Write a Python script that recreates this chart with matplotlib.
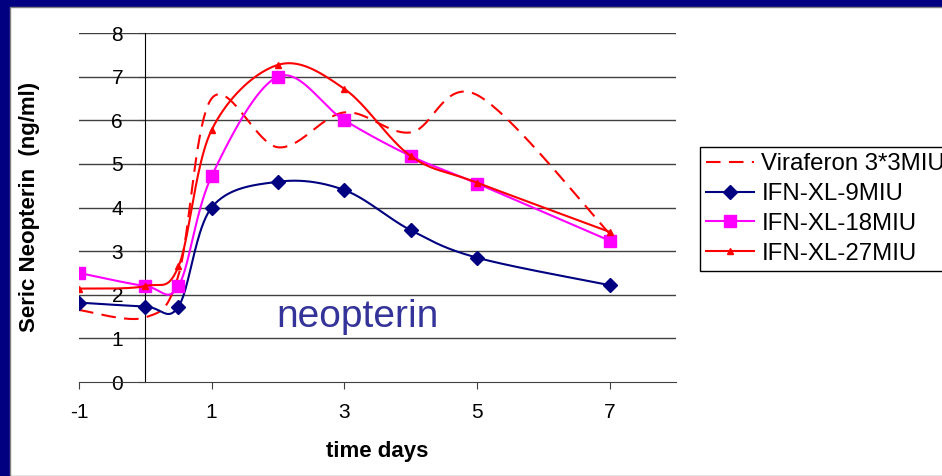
import numpy as np
import matplotlib.pyplot as plt
from matplotlib.patches import Rectangle
from matplotlib.lines import Line2D

plt.rcParams['font.family'] = ['Liberation Sans', 'DejaVu Sans']
plt.rcParams['axes.unicode_minus'] = False

# sampling times (days) and serum neopterin values (ng/ml)
days = np.array([-1, 0, 0.5, 1, 2, 3, 4, 5, 7])
viraferon = np.array([1.65, 1.48, 2.45, 6.5, 5.38, 6.18, 5.72, 6.58, 3.4])
xl_9 = np.array([1.82, 1.73, 1.73, 4.0, 4.59, 4.4, 3.48, 2.85, 2.22])
xl_18 = np.array([2.5, 2.2, 2.2, 4.72, 7.0, 6.0, 5.18, 4.55, 3.24])
xl_27 = np.array([2.14, 2.2, 2.65, 5.78, 7.27, 6.72, 5.18, 4.57, 3.44])

xticks = [-1, 1, 3, 5, 7]
yticks = [0, 1, 2, 3, 4, 5, 6, 7, 8]
labels = ['Viraferon 3*3MIU', 'IFN-XL-9MIU', 'IFN-XL-18MIU', 'IFN-XL-27MIU']


def smooth(x, y, n=40, sx=66.4, sy=43.6):
    # excel style smoothed line: bezier segments with catmull-rom control points
    p = np.column_stack([x * sx, y * sy])
    p = np.vstack([p[0], p, p[-1]])
    out = []
    for i in range(1, len(p) - 2):
        p0, p1, p2, p3 = p[i - 1], p[i], p[i + 1], p[i + 2]
        c1 = p1 + (p2 - p0) / 6
        c2 = p2 - (p3 - p1) / 6
        t = np.linspace(0, 1, n)[:, None]
        seg = (1 - t)**3 * p1 + 3 * (1 - t)**2 * t * c1 + 3 * (1 - t) * t**2 * c2 + t**3 * p2
        out.append(seg)
    out = np.vstack(out)
    return out[:, 0] / sx, out[:, 1] / sy


W, H = 942, 476
fig = plt.figure(figsize=(W / 100, H / 100), dpi=100)
fig.patch.set_facecolor('#000080')
fig.patches.append(Rectangle((10 / W, 0), 1, 1 - 7 / H, transform=fig.transFigure,
                             facecolor='white', edgecolor='#808080', lw=1, zorder=-5))

ax = fig.add_axes([79 / W, 1 - 382 / H, 597 / W, 349 / H])
ax.set_facecolor('none')
ax.set_xlim(-1, 8)
ax.set_ylim(0, 8)

for v in yticks[1:]:
    ax.axhline(v, color='#404040', lw=1, zorder=1)

lw = 1.5
sx, sy = smooth(days, viraferon)
ax.plot(sx, sy, color='#ff0000', lw=lw, dashes=(7, 4), zorder=3)

sx, sy = smooth(days, xl_9)
ax.plot(sx, sy, color='#000080', lw=lw, zorder=3)
ax.plot(days, xl_9, 'D', color='#000080', ms=7, zorder=4)

sx, sy = smooth(days, xl_18)
ax.plot(sx, sy, color='#ff00ff', lw=lw, zorder=3)
ax.plot(days, xl_18, 's', color='#ff00ff', ms=8.5, zorder=4)

sx, sy = smooth(days, xl_27)
ax.plot(sx, sy, color='#ff0000', lw=lw, zorder=5)
ax.plot(days, xl_27, '^', color='#ff0000', ms=5, zorder=6)

for s in ['top', 'right']:
    ax.spines[s].set_visible(False)
ax.spines['left'].set_position(('data', 0))
ax.spines['left'].set_color('black')
ax.spines['bottom'].set_color('#404040')
ax.set_xticks(xticks)
ax.set_yticks(yticks)
ax.tick_params(axis='y', direction='out', length=5, pad=11, labelsize=15, color='#404040')
ax.tick_params(axis='x', direction='out', length=5, pad=10, labelsize=15, color='#404040')

fig.text(357 / W, 1 - 327 / H, 'neopterin', fontsize=28, color='#333399',
         family=['Liberation Sans Narrow', 'Liberation Sans'], ha='center', va='baseline')

fig.text(377 / W, 1 - 452 / H, 'time days', fontsize=16, fontweight='bold',
         ha='center', va='center')
fig.text(30 / W, 1 - 207 / H, 'Seric Neopterin  (ng/ml)', fontsize=16, fontweight='bold',
         rotation=90, ha='center', va='center')

handles = [
    Line2D([], [], color='#ff0000', lw=lw, dashes=(7, 4)),
    Line2D([], [], color='#000080', lw=lw, marker='D', ms=7),
    Line2D([], [], color='#ff00ff', lw=lw, marker='s', ms=8.5),
    Line2D([], [], color='#ff0000', lw=lw, marker='^', ms=5),
]
leg = fig.legend(handles, labels, loc='upper left', bbox_to_anchor=(700 / W, 1 - 147 / H),
                 fontsize=17.3, frameon=True, fancybox=False, framealpha=1,
                 edgecolor='black', handlelength=2.0, handletextpad=0.3,
                 labelspacing=0.33, borderpad=0.25, borderaxespad=0)
leg.get_frame().set_linewidth(1)

fig.savefig('out.png', dpi=100)
